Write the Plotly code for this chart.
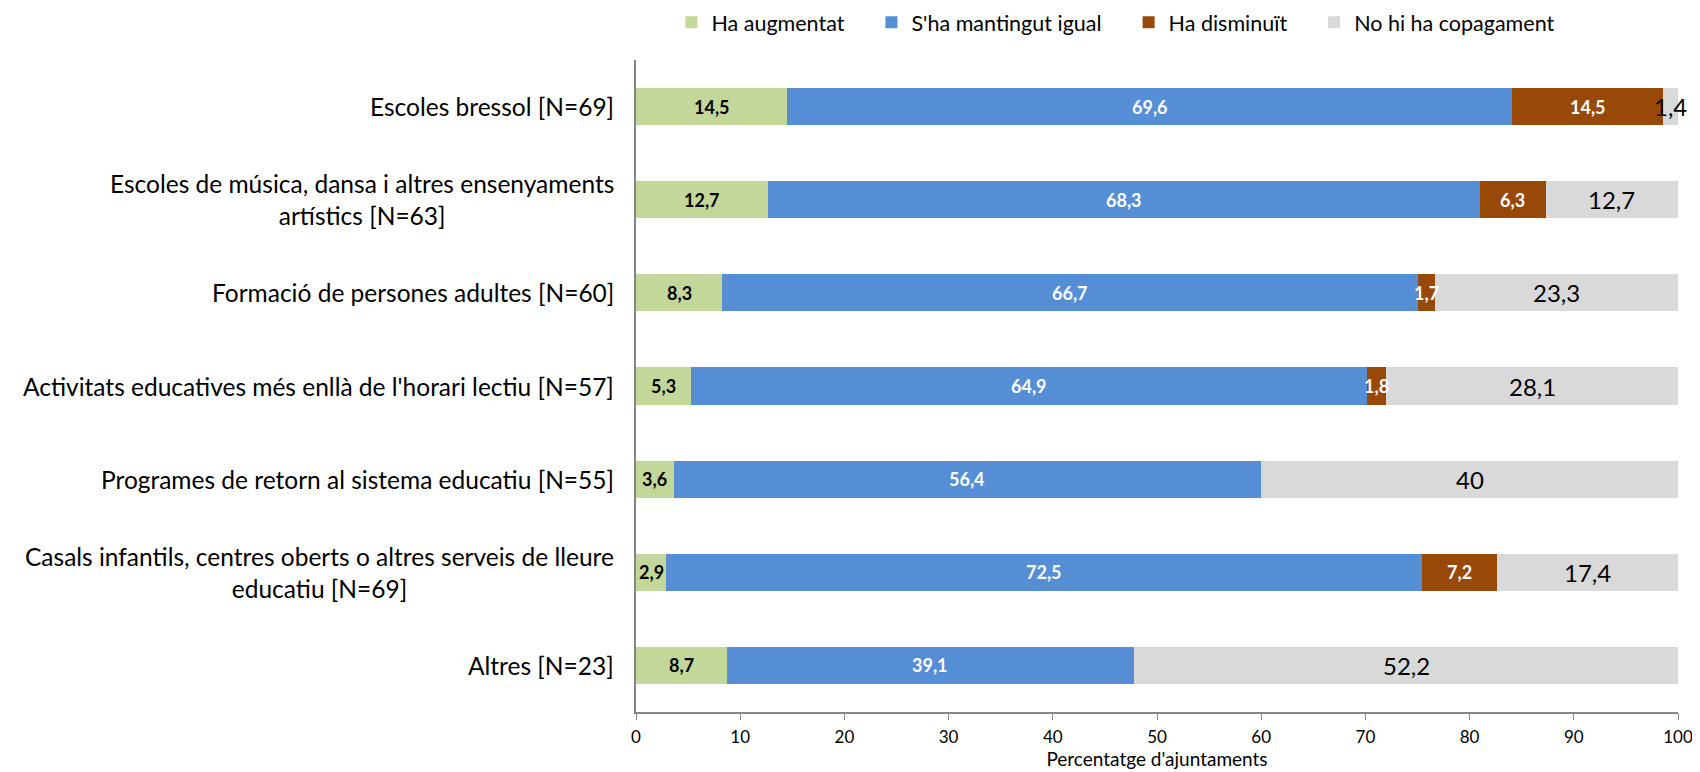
import plotly.graph_objects as go

categories = [
    "Escoles bressol [N=69]",
    "Escoles de música, dansa i altres ensenyaments<br>artístics [N=63]",
    "Formació de persones adultes [N=60]",
    "Activitats educatives més enllà de l'horari lectiu [N=57]",
    "Programes de retorn al sistema educatiu [N=55]",
    "Casals infantils, centres oberts o altres serveis de lleure<br>educatiu [N=69]",
    "Altres [N=23]",
]
series_names = ["Ha augmentat", "S'ha mantingut igual", "Ha disminuït", "No hi ha copagament"]
augmentat = [14.5, 12.7, 8.3, 5.3, 3.6, 2.9, 8.7]
mantingut = [69.6, 68.3, 66.7, 64.9, 56.4, 72.5, 39.1]
disminuit = [14.5, 6.3, 1.7, 1.8, 0, 7.2, 0]
no_copagament = [1.4, 12.7, 23.3, 28.1, 40, 17.4, 52.2]
x_ticks = [0, 10, 20, 30, 40, 50, 60, 70, 80, 90, 100]

colors = ["#C4D79B", "#558ED5", "#984807", "#D9D9D9"]
label_colors = ["black", "white", "white", "black"]
label_bold = [True, True, True, False]
label_sizes = [18, 18, 18, 24]

FONT = "Lato"
ykeys = list(range(len(categories)))
series = [augmentat, mantingut, disminuit, no_copagament]
LEGEND_PAD = "\u00a0" * 4  # extra spacing between legend entries

fig = go.Figure()
for name, vals, col in zip(series_names, series, colors):
    fig.add_trace(go.Bar(
        y=ykeys, x=vals, name=name + LEGEND_PAD, orientation="h",
        marker=dict(color=col, line=dict(width=0)),
        hovertemplate=name + ": %{x}<extra></extra>",
    ))

annotations = []
cum = [0.0] * len(categories)
for si, vals in enumerate(series):
    for i, v in enumerate(vals):
        if v > 0:
            txt = ("%g" % v).replace(".", ",")
            if label_bold[si]:
                txt = "<b>" + txt + "</b>"
            annotations.append(dict(
                x=cum[i] + v / 2, y=ykeys[i], xref="x", yref="y", text=txt,
                showarrow=False, xanchor="center", yanchor="middle",
                font=dict(family=FONT, size=label_sizes[si], color=label_colors[si]),
            ))
        cum[i] += v

for i, c in enumerate(categories):
    annotations.append(dict(
        x=-0.019, y=ykeys[i], xref="paper", yref="y", text=c, showarrow=False,
        xanchor="right", yanchor="middle", align="center",
        font=dict(family=FONT, size=24.5, color="black"),
    ))

fig.update_layout(
    width=1700, height=772,
    margin=dict(l=628, r=30, t=52, b=68, autoexpand=False),
    barmode="stack", bargap=0.6,
    plot_bgcolor="white", paper_bgcolor="white",
    font=dict(family=FONT, color="black"),
    legend=dict(orientation="h", x=0.034, xanchor="left", y=1.058, yanchor="middle",
                xref="paper", yref="paper",
                font=dict(family=FONT, size=21.5), traceorder="normal",
                itemsizing="constant", itemwidth=30),
    xaxis=dict(range=[0, 100], tickvals=x_ticks, ticks="outside", ticklen=6,
               tickcolor="#868686", showline=True, linecolor="#868686", linewidth=2,
               showgrid=False, zeroline=False, automargin=False, ticklabelstandoff=3,
               tickfont=dict(family=FONT, size=17),
               title=dict(text="Percentatge d'ajuntaments", font=dict(family=FONT, size=19), standoff=0)),
    yaxis=dict(autorange="reversed", showticklabels=False, showline=True, automargin=False,
               linecolor="#868686", linewidth=2, showgrid=False, zeroline=False, ticks=""),
    annotations=annotations,
)

fig.write_html("out.html")
